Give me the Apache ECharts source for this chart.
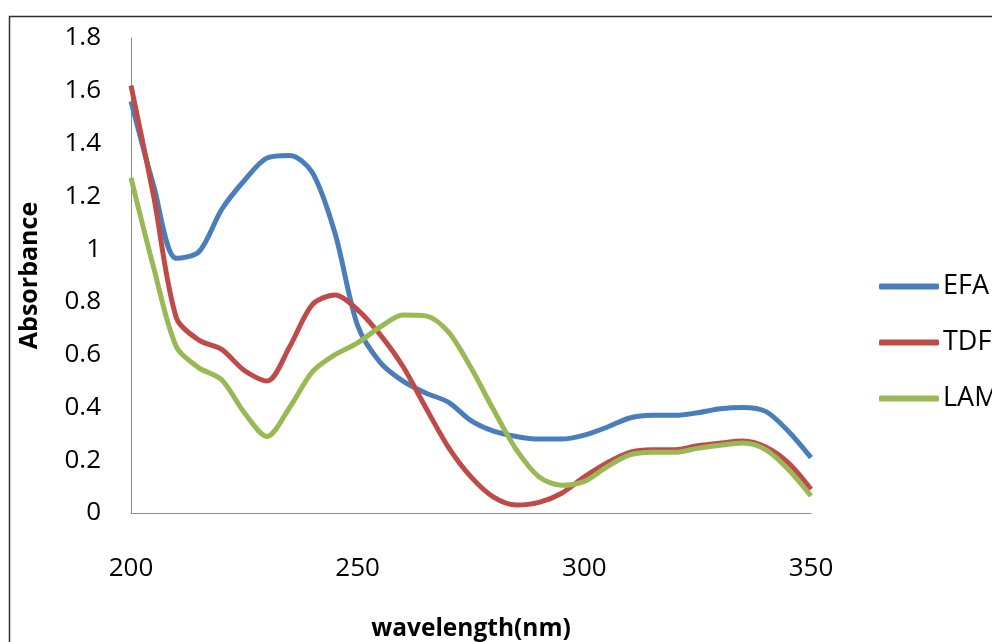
<!DOCTYPE html>
<html>
<head>
<meta charset="utf-8">
<script src="https://cdn.jsdelivr.net/npm/echarts@6/dist/echarts.min.js"></script>
<style>
  html, body { margin: 0; padding: 0; background: #fff; }
  #main { width: 992px; height: 642px; }
</style>
</head>
<body>
<div id="main"></div>
<script>
// wavelength (nm), read every 5 nm off the picture
var wavelength = [200, 205, 210, 215, 220, 225, 230, 235, 240, 245, 250, 255, 260, 265, 270, 275,
                  280, 285, 290, 295, 300, 305, 310, 315, 320, 325, 330, 335, 340, 345, 350];
var efa = [1.56, 1.24, 0.965, 0.99, 1.15, 1.26, 1.345, 1.355, 1.29, 1.06, 0.71, 0.57, 0.50, 0.455, 0.42, 0.35,
           0.31, 0.29, 0.28, 0.28, 0.295, 0.325, 0.36, 0.37, 0.37, 0.38, 0.395, 0.40, 0.385, 0.31, 0.21];
var tdf = [1.62, 1.20, 0.74, 0.655, 0.62, 0.54, 0.50, 0.63, 0.79, 0.826, 0.77, 0.675, 0.555, 0.40, 0.25, 0.137,
           0.06, 0.03, 0.04, 0.075, 0.137, 0.19, 0.23, 0.24, 0.24, 0.255, 0.265, 0.273, 0.25, 0.19, 0.09];
var lam = [1.27, 0.93, 0.63, 0.55, 0.505, 0.38, 0.29, 0.40, 0.535, 0.60, 0.645, 0.705, 0.75, 0.747, 0.686, 0.55,
           0.39, 0.24, 0.137, 0.105, 0.12, 0.175, 0.22, 0.23, 0.23, 0.245, 0.257, 0.265, 0.24, 0.165, 0.065];
var seriesNames = ['EFA', 'TDF', 'LAM'];
var colors = ['#4a7ebb', '#be4b48', '#98b954'];

function pairs(arr) {
    return arr.map(function (v, i) { return [wavelength[i], v]; });
}

var myChart = echarts.init(document.getElementById('main'));
var font = '"Open Sans", "Noto Sans", sans-serif';

var option = {
    backgroundColor: '#fff',
    animation: false,
    color: colors,
    // frame of the chart area (only top and left edges are inside the picture)
    graphic: [{
        type: 'rect',
        shape: { x: 9.5, y: 16.5, width: 1100, height: 800 },
        style: { fill: 'none', stroke: '#303030', lineWidth: 1.5 },
        silent: true
    }],
    grid: { left: 131, right: 181, top: 38, bottom: 129, outerBoundsMode: 'none' },
    legend: {
        orient: 'vertical',
        left: 874,
        top: 268,
        icon: 'roundRect',
        itemWidth: 60,
        itemHeight: 6,
        itemGap: 29,
        textStyle: { fontFamily: font, fontSize: 27, color: '#000', padding: [0, 0, 0, -1] },
        data: seriesNames
    },
    xAxis: {
        type: 'value',
        min: 200,
        max: 350,
        interval: 50,
        name: 'wavelength(nm)',
        nameLocation: 'middle',
        nameGap: 104,
        nameTextStyle: { fontFamily: font, fontSize: 24.5, fontWeight: 'bold', color: '#000' },
        axisLine: { lineStyle: { color: '#8c8c8c', width: 1 } },
        axisTick: { show: false },
        splitLine: { show: false },
        axisLabel: { fontFamily: font, fontSize: 26, color: '#000', margin: 43 }
    },
    yAxis: {
        type: 'value',
        min: 0,
        max: 1.8,
        interval: 0.2,
        name: 'Absorbance',
        nameLocation: 'middle',
        nameGap: 89,
        nameTextStyle: { fontFamily: font, fontSize: 25, fontWeight: 'bold', color: '#000' },
        axisLine: { show: true, lineStyle: { color: '#8c8c8c', width: 1 } },
        axisTick: { show: false },
        splitLine: { show: false },
        axisLabel: { fontFamily: font, fontSize: 26, color: '#000', margin: 30 }
    },
    series: [efa, tdf, lam].map(function (arr, i) {
        return {
            name: seriesNames[i],
            type: 'line',
            data: pairs(arr),
            smooth: 0.3,
            symbol: 'none',
            lineStyle: { width: 5, color: colors[i] },
            itemStyle: { color: colors[i] }
        };
    })
};

myChart.setOption(option);
</script>
</body>
</html>
